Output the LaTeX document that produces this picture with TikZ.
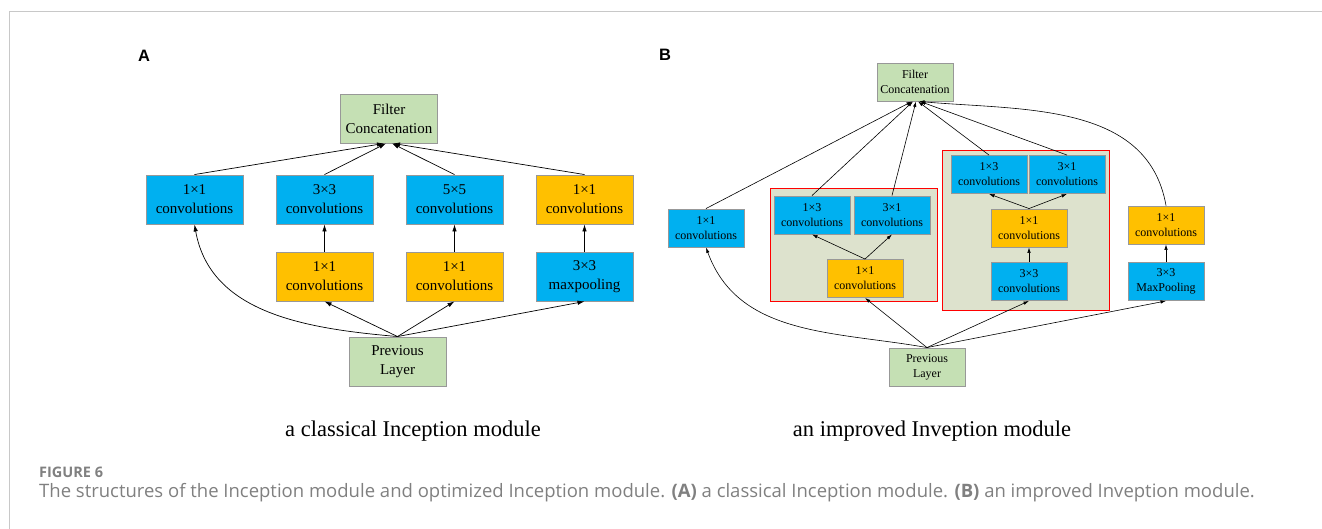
\documentclass[tikz,border=0pt]{standalone}
\usepackage{fontspec}
\setmainfont{Liberation Serif}
\newfontfamily\capfont{Open Sans}
\newfontfamily\labfont{Liberation Sans}
\newfontfamily\boxfont{Liberation Serif}
\usetikzlibrary{arrows.meta}
\definecolor{convblue}{HTML}{00B0F0}
\definecolor{convorange}{HTML}{FFC000}
\definecolor{layergreen}{HTML}{C5E0B4}
\definecolor{groupfill}{HTML}{DDE2CD}
\definecolor{boxline}{HTML}{989898}
\definecolor{capgray}{HTML}{808080}
\definecolor{framegray}{HTML}{C8C8C8}

\begin{document}
\begin{tikzpicture}[x=1pt, y=-1pt, every node/.style={inner sep=0pt, align=center}]
	\tikzset{
		boxA/.style={draw=boxline, line width=0.9pt, minimum width=97pt, minimum height=49pt, font=\rmfamily\fontsize{15}{19}\selectfont},
		boxB/.style={draw=boxline, line width=0.9pt, minimum width=76pt, minimum height=38pt, font=\rmfamily\fontsize{12}{15}\selectfont},
		conv/.style={fill=convblue},
		reduce/.style={fill=convorange},
		layer/.style={fill=layergreen},
		group/.style={draw=red, line width=0.8pt, fill=groupfill},
		arrA/.style={-{Latex[length=7pt,width=4.5pt]}, line width=0.7pt},
		arrB/.style={-{Latex[length=5.5pt,width=3.5pt]}, line width=0.6pt}
	}
	\useasboundingbox (0,0) rectangle (1322,529);
	\draw[framegray, line width=1pt] (9,529) -- (9,12) -- (1322,12);

	\node[font=\labfont\bfseries\fontsize{16.5}{20}\selectfont] (labA) at (144,56) {A};
	\node[font=\labfont\bfseries\fontsize{16.5}{20}\selectfont] (labB) at (665,55) {B};

	\node[boxA, layer]  (fA) at (389,118.5)   {Filter\\Concatenation};
	\node[boxA, conv]   (a1) at (194.5,199.5) {1×1\\convolutions};
	\node[boxA, conv]   (a2) at (324.5,199.5) {3×3\\convolutions};
	\node[boxA, conv]   (a3) at (454.5,199.5) {5×5\\convolutions};
	\node[boxA, reduce] (a4) at (584.5,199.5) {1×1\\convolutions};
	\node[boxA, reduce] (a5) at (324.5,276.5) {1×1\\convolutions};
	\node[boxA, reduce] (a6) at (454.5,276.5) {1×1\\convolutions};
	\node[boxA, conv]   (a7) at (584.5,276.5) {3×3\\maxpooling};
	\node[boxA, layer]  (pA) at (397.5,361.5) {Previous\\Layer};
	\foreach \from/\to in {a5/a2, a6/a3, a7/a4, pA/a5, pA/a6, pA/a7}
	\draw[arrA] (\from.north) -- (\to.south);
	\foreach \from/\dx in {a1/-5, a2/-3, a3/3, a4/4}
	\draw[arrA] (\from.north) -- ([xshift=\dx pt]fA.south);
	\draw[arrA] (pA.north) to[out=175, in=-80] (a1.south);

	\node[group, minimum width=167pt, minimum height=113pt] (g1) at (853.5,244.5) {};
	\node[group, minimum width=167pt, minimum height=160pt] (g2) at (1025.5,230) {};
	\node[boxB, layer]  (fB)  at (915,82)      {Filter\\Concatenation};
	\node[boxB, conv]   (b1)  at (706,228)     {1×1\\convolutions};
	\node[boxB, conv]   (b2)  at (812,215)     {1×3\\convolutions};
	\node[boxB, conv]   (b3)  at (892,215)     {3×1\\convolutions};
	\node[boxB, reduce] (b4)  at (865,278.5)   {1×1\\convolutions};
	\node[boxB, conv]   (b5)  at (989,174.5)   {1×3\\convolutions};
	\node[boxB, conv]   (b6)  at (1067,174.5)  {3×1\\convolutions};
	\node[boxB, reduce] (b7)  at (1029,228)    {1×1\\convolutions};
	\node[boxB, conv]   (b8)  at (1029,281.5)  {3×3\\convolutions};
	\node[boxB, reduce] (b9)  at (1166,225)    {1×1\\convolutions};
	\node[boxB, conv]   (b10) at (1166,281.5)  {3×3\\MaxPooling};
	\node[boxB, layer]  (pB)  at (927,367)     {Previous\\Layer};
	\foreach \from/\to in {b4/b2, b4/b3, b7/b5, b7/b6, b8/b7, b10/b9, pB/b4, pB/b8, pB/b10}
	\draw[arrB] (\from.north) -- (\to.south);
	\foreach \from/\dx in {b1/-3, b2/-2, b3/1, b5/3, b6/5}
	\draw[arrB] (\from.north) -- ([xshift=\dx pt]fB.south);
	\draw[arrB] (pB.north) to[out=170, in=-70] (b1.south);
	\draw[arrB] (b9.north) to[out=100, in=-5] ([xshift=4pt]fB.south);

	\node[font=\rmfamily\fontsize{22.5}{27}\selectfont] (capA) at (413,431) {a classical Inception module};
	\node[font=\rmfamily\fontsize{22.5}{27}\selectfont] (capB) at (932,431) {an improved Inveption module};
	\node[anchor=west, text=capgray, font=\capfont\bfseries\fontsize{14.5}{17}\selectfont] (fig) at (39,472) {FIGURE 6};
	\node[anchor=west, text=capgray, font=\capfont\fontsize{18.5}{22}\selectfont] (cap) at (39,493)
	{The structures of the Inception module and optimized Inception module. \textbf{(A)} a classical Inception module. \textbf{(B)} an improved Inveption module.};
\end{tikzpicture}
\end{document}
